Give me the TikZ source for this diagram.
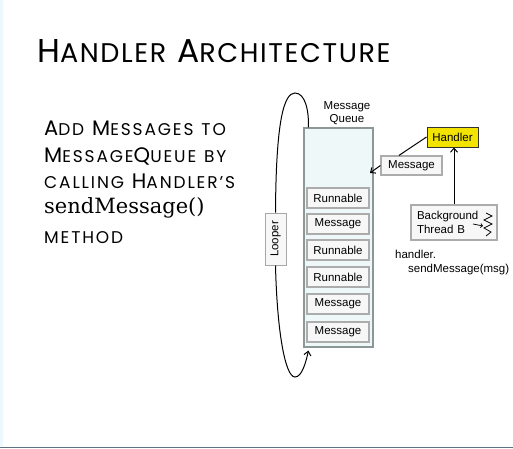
\documentclass[tikz,border=0pt]{standalone}
\usepackage{fontspec}
\setmainfont{Liberation Sans}
\newfontfamily\handfont[LetterSpace=11]{Poppins}
\newfontfamily\titlefont[LetterSpace=6]{Poppins}
\newfontfamily\codefont{DejaVu Serif}
\usetikzlibrary{arrows.meta}
\definecolor{qfill}{HTML}{EEF8F8}
\definecolor{hyellow}{HTML}{F2E400}
\definecolor{qframe}{HTML}{8C9898}
\definecolor{botline}{HTML}{5E7282}
\newcommand\tsc[1]{{\fontsize{27}{27}\selectfont #1}}
\newcommand\bsc[1]{{\fontsize{17}{17}\selectfont #1}}
\tikzset{
  item/.style={draw=gray!65, line width=1.2pt, fill=gray!6, minimum width=62pt,
    minimum height=20pt, inner sep=0pt, font=\fontsize{11.5}{13.5}\selectfont},
  arr/.style={line width=1pt, -{Straight Barb[length=4pt,width=7pt]}},
  plain/.style={line width=1pt},
  body/.style={anchor=base west, inner sep=0pt, font=\handfont\fontsize{21}{21}\selectfont},
  note/.style={anchor=base west, inner sep=0pt, font=\fontsize{11.5}{13.5}\selectfont},
}
\begin{document}
\begin{tikzpicture}[x=1pt,y=-1pt]
\useasboundingbox (0,0) rectangle (513,448);
\fill[white] (0,0) rectangle (513,448);
\fill[cyan!8] (0,0) rectangle (3,446);
\fill[botline] (0,446.5) rectangle (513,448);

% title and text
\node[anchor=base west, inner sep=0pt, font=\titlefont\fontsize{33}{33}\selectfont] (title) at (37,62)
  {H\tsc{ANDLER} A\tsc{RCHITECTURE}};
\node[body] (l1) at (44,135) {A\bsc{DD} M\bsc{ESSAGES} \bsc{TO}};
\node[body] (l2) at (44,162) {M\bsc{ESSAGE}Q\bsc{UEUE} \bsc{BY}};
\node[body] (l3) at (44,188) {\bsc{CALLING} H\bsc{ANDLER’S}};
\node[body, font=\codefont\fontsize{21}{21}\selectfont] (l4) at (44,213) {sendMessage()};
\node[body] (l5) at (44,243) {\bsc{METHOD}};

% queue
\node[font=\fontsize{11.5}{13.5}\selectfont, align=center, inner sep=0pt] (qlabel) at (347,113) {Message\\Queue};
\node[draw=qframe, line width=1.2pt, fill=qfill, minimum width=69pt, minimum height=219pt, inner sep=0pt] (queue) at (338.5,237.5) {};
\node[item] (r1) at (338,198) {Runnable};
\node[item] (m1) at (338,224) {Message};
\node[item] (r2) at (338,250) {Runnable};
\node[item] (r3) at (338,277) {Runnable};
\node[item] (m2) at (338,304) {Message};
\node[item] (m3) at (338,332) {Message};

% looper
\node[draw=gray!70, line width=1pt, fill=gray!6, rotate=90, minimum width=52pt, minimum height=21pt,
  inner sep=0pt, font=\fontsize{11.5}{13.5}\selectfont] (looper) at (275.5,239) {Looper};
\draw[plain] (looper.east) .. controls (276,120) and (284,93) .. (295,93)
  .. controls (305,93) and (309,110) .. ([xshift=5pt]queue.north west);
\draw[arr] (looper.west) .. controls (277,330) and (285,377) .. (295,377)
  .. controls (302,377) and (306,362) .. ([xshift=5pt,yshift=-3pt]queue.south west);

% handler side
\node[item, minimum width=61pt, minimum height=19pt] (msg) at (411.5,165.5) {Message};
\node[draw=black!80, line width=1pt, fill=hyellow, minimum width=51pt, minimum height=20pt,
  inner sep=0pt, font=\fontsize{11.5}{13.5}\selectfont] (handler) at (452.5,137) {Handler};
\node[item, minimum width=86pt, minimum height=35pt, text width=74pt, inner xsep=6pt, align=left] (bg) at (454,222.5)
  {Background\\Thread B};
\draw[line width=0.8pt] (486,213) -- (492,216) -- (484,220) -- (492,224) -- (484,228) -- (491,232) -- (486,236);
\draw[line width=0.7pt, -{Straight Barb[length=2pt,width=4pt]}] (473,224) -- (483,226);

\coordinate (qin) at (370,173);
\draw[plain] (handler.west) -- ([xshift=-12.5pt]msg.north);
\draw[arr] (msg.west) -- (qin);
\draw[arr] (bg.north) -- (bg.north |- handler.south);

\node[note] (h1) at (395,258) {handler.};
\node[note] (h2) at (408,272) {sendMessage(msg)};
\end{tikzpicture}
\end{document}
